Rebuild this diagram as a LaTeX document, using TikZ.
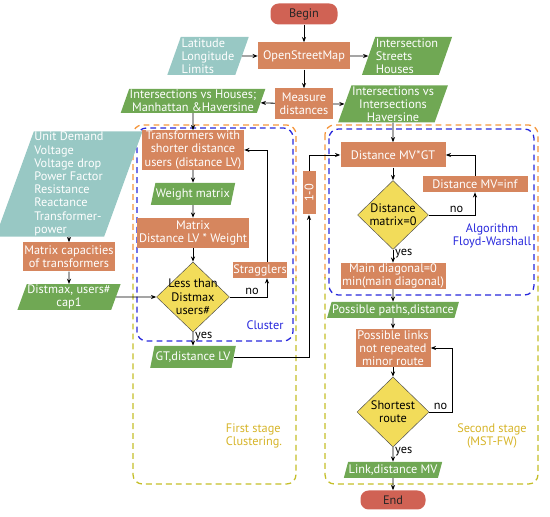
\documentclass[tikz,border=0pt]{standalone}
\usepackage{fontspec}
\setmainfont{PT Sans}
\usetikzlibrary{arrows.meta,positioning,shapes.geometric}
\definecolor{boxorange}{RGB}{214,134,94}
\definecolor{datagreen}{RGB}{112,168,84}
\definecolor{inputteal}{RGB}{152,200,196}
\definecolor{decyellow}{RGB}{242,220,90}
\definecolor{termred}{RGB}{208,98,84}
\definecolor{stageorange}{RGB}{245,150,60}
\definecolor{stageolive}{RGB}{196,190,40}
\definecolor{stagetext}{RGB}{214,180,40}
\definecolor{clusterblue}{RGB}{40,40,220}
\newcommand{\px}{0.03cm}

\tikzset{
  base/.style={font=\fontsize{10.5}{11.3}\selectfont, inner sep=0.5pt, align=center},
  process/.style={base, rectangle, fill=boxorange, text=white},
  data/.style={base, trapezium, trapezium left angle=70, trapezium right angle=110,
    trapezium stretches=true, fill=datagreen, text=white},
  input/.style={data, fill=inputteal},
  decision/.style={base, diamond, inner sep=-4pt, fill=decyellow, draw=black!70, text=black},
  terminal/.style={base, rounded corners=7pt, fill=termred, text=black!85},
  lbl/.style={font=\fontsize{10.5}{11.3}\selectfont, inner sep=1.5pt, text=black},
  arr/.style={-{Stealth[length=4.5pt,width=3.5pt]}, black, line width=0.7pt},
  stagebox/.style={dash pattern=on 5pt off 3.5pt, line width=1.1pt, rounded corners=8pt},
}

\begin{document}
\begin{tikzpicture}[x=\px, y=-\px]
  \useasboundingbox (0,0) rectangle (550,517);

  % stage frames
  \begin{scope}
    \clip (0,0) rectangle (550,278);
    \draw[stagebox, stageorange] (133,125) rectangle (296,484);
    \draw[stagebox, stageorange] (325,125) rectangle (538,484);
  \end{scope}
  \begin{scope}
    \clip (0,278) rectangle (550,517);
    \draw[stagebox, stageolive] (133,125) rectangle (296,484);
    \draw[stagebox, stageolive] (325,125) rectangle (538,484);
  \end{scope}
  \draw[stagebox, clusterblue] (137,128) rectangle (293,341);
  \draw[stagebox, clusterblue] (329,129) rectangle (534,295);

  % top
  \node[terminal, minimum width=67*\px, minimum height=21*\px] (begin) at (304,14) {Begin};
  \node[process, minimum width=92*\px, minimum height=27*\px] (osm) at (304,56) {OpenStreetMap};
  \node[input, minimum width=82*\px, minimum height=38*\px, align=left] (latlon) at (208,56) {Latitude\\Longitude\\Limits};
  \node[data, minimum width=86*\px, minimum height=38*\px, align=left] (streets) at (407,56) {Intersection\\Streets\\Houses};
  \node[process, minimum width=58*\px, minimum height=31*\px] (measure) at (304,104) {Measure\\distances};
  \node[data, minimum width=142*\px, minimum height=24*\px] (ivh) at (193,101) {Intersections vs Houses;\\Manhattan \&Haversine};
  \node[data, minimum width=102*\px, minimum height=37*\px] (ivi) at (393,104) {Intersections vs\\Intersections\\Haversine};

  % first stage
  \node[input, minimum width=122*\px, minimum height=95*\px, align=left] (params) at (69,184)
    {Unit Demand\\Voltage\\Voltage drop\\Power Factor\\Resistance\\Reactance\\Transformer-\\power};
  \node[process, minimum width=92*\px, minimum height=29*\px] (capac) at (69,257) {Matrix capacities\\of transformers};
  \node[data, minimum width=90*\px, minimum height=25*\px] (distmax) at (69,297) {Distmax, users\#\\cap1};
  \node[process, minimum width=102*\px, minimum height=39*\px] (nearest) at (193,150) {Transformers with\\shorter distance\\users (distance LV)};
  \node[data, minimum width=84*\px, minimum height=22*\px] (weight) at (193,194) {Weight matrix};
  \node[process, minimum width=112*\px, minimum height=30*\px] (lvweight) at (193,233) {Matrix\\Distance LV * Weight};
  \node[decision, minimum width=73*\px, minimum height=70*\px] (less) at (193,297) {Less than\\Distmax\\users\#};
  \node[process, minimum width=54*\px, minimum height=16*\px] (strag) at (260,270) {Stragglers};
  \node[data, minimum width=86*\px, minimum height=22*\px] (gt) at (193,357) {GT,distance LV};
  \node[process, rotate=90, minimum width=43*\px, minimum height=13*\px] (onezero) at (309,193) {1-0};

  % second stage
  \node[process, minimum width=105*\px, minimum height=25*\px] (mvgt) at (393,155) {Distance MV*GT};
  \node[decision, minimum width=71*\px, minimum height=69*\px] (zero) at (393,215) {Distance\\matrix=0};
  \node[process, minimum width=105*\px, minimum height=16*\px] (inf) at (475,184) {Distance MV=inf};
  \node[process, minimum width=105*\px, minimum height=26*\px] (diag) at (393,276) {Main diagonal=0\\min(main diagonal)};
  \node[data, minimum width=130*\px, minimum height=16*\px] (paths) at (393,310) {Possible paths,distance};
  \node[process, minimum width=75*\px, minimum height=38*\px] (links) at (393,348) {Possible links\\not repeated\\minor route};
  \node[decision, minimum width=72*\px, minimum height=70*\px] (shortest) at (393,412) {Shortest\\route};
  \node[data, minimum width=96*\px, minimum height=16*\px] (link) at (393,470) {Link,distance MV};
  \node[terminal, minimum width=65*\px, minimum height=19*\px] (end) at (393,500) {End};
  \coordinate (noback) at (452,412);

  % frame labels
  \node[lbl, text=clusterblue] (clusterlbl) at (265,325) {Cluster};
  \node[lbl, text=clusterblue, align=center] (fwlbl) at (492,236) {Algorithm\\Floyd-Warshall};
  \node[lbl, text=stagetext, align=left] (firstlbl) at (254,436) {First stage\\Clustering.};
  \node[lbl, text=stagetext, align=center] (secondlbl) at (492,436) {Second stage\\(MST-FW)};

  % connectors
  \draw[arr] (begin) -- (osm);
  \draw[arr] (latlon) -- (osm);
  \draw[arr] (osm) -- (streets);
  \draw[arr] (osm) -- (measure);
  \draw[arr] (measure) -- (ivh);
  \draw[arr] (measure) -- (ivi);
  \draw[arr] (ivh) -- (nearest);
  \draw[arr] (ivi) -- (mvgt);
  \draw[arr] (params) -- (capac);
  \draw[arr] (capac) -- (distmax);
  \draw[arr] (distmax) -- (less);
  \draw[arr] (nearest) -- (weight);
  \draw[arr] (weight) -- (lvweight);
  \draw[arr] (lvweight) -- (less);
  \draw[arr] (less.east) -| node[lbl, above, pos=0.3] {no} ([xshift=7*\px]strag.south);
  \draw[arr] ([xshift=7*\px]strag.north) |- (nearest.east);
  \draw[arr] (less) -- node[lbl, right, pos=0.3] {yes} (gt);
  \draw[arr] (gt.east) -| (onezero.west);
  \draw[arr] (onezero.east) |- (mvgt.west);
  \draw[arr] (mvgt) -- (zero);
  \draw[arr] (zero.east) -| node[lbl, above, pos=0.3] {no} (inf.south);
  \draw[arr] (inf.north) |- (mvgt.east);
  \draw[arr] (zero) -- node[lbl, right, pos=0.3] {yes} (diag);
  \draw[arr] (diag) -- (paths);
  \draw[arr] (paths) -- (links);
  \draw[arr] (links) -- (shortest);
  \draw[arr] (shortest.east) -- node[lbl, above] {no} (noback) |- (links.east);
  \draw[arr] (shortest) -- node[lbl, right, pos=0.3] {yes} (link);
  \draw[arr] (link) -- (end);
\end{tikzpicture}
\end{document}
